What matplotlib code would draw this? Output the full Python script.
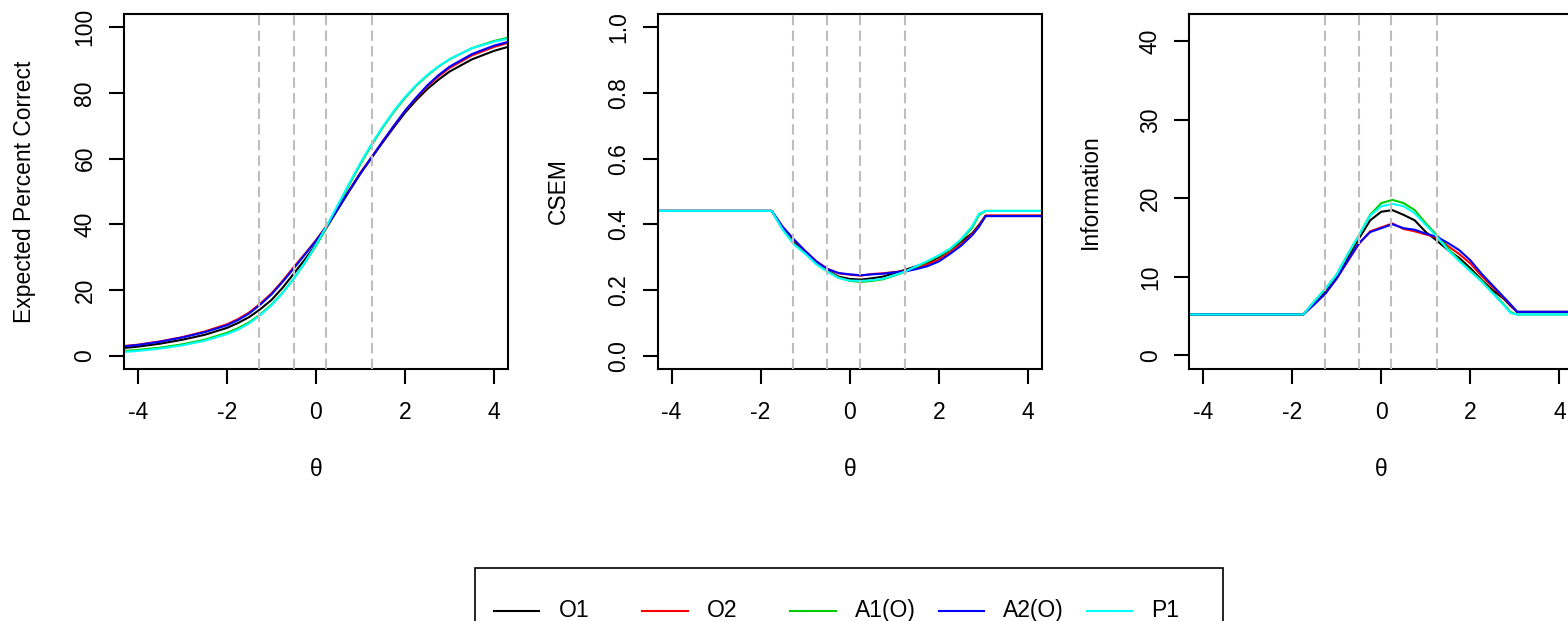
import matplotlib.pyplot as plt
import matplotlib as mpl
from matplotlib.lines import Line2D
from matplotlib.patches import Rectangle

mpl.rcParams['font.family'] = 'Liberation Sans'
mpl.rcParams['font.size'] = 16.5

# series names and colours (R defaults: black, red, green3, blue, cyan)
series = ['O1', 'O2', 'A1(O)', 'A2(O)', 'P1']
colors = ['#000000', '#FF0000', '#00CD00', '#0000FF', '#00FFFF']

# cut scores (dashed vertical lines)
cuts = [-1.27, -0.50, 0.22, 1.25]

# theta grid for the expected percent correct panel
theta_tcc = [-4.31, -4, -3.5, -3, -2.5, -2, -1.75, -1.5, -1.25, -1, -0.75, -0.5, -0.25,
             0, 0.25, 0.5, 0.75, 1, 1.25, 1.5, 1.75, 2, 2.25, 2.5, 2.75, 3, 3.5, 4, 4.31]
tcc_o1 = [2.4, 2.8, 3.7, 4.9, 6.4, 8.5, 10.0, 11.8, 14.2, 17.0, 20.7, 25.0, 29.3,
          34.0, 39.3, 44.8, 50.2, 55.5, 60.3, 65.0, 69.6, 74.0, 77.8, 81.2, 84.0, 86.5, 90.2, 92.8, 94.0]
tcc_o2 = [3.0, 3.4, 4.4, 5.7, 7.4, 9.6, 11.2, 13.2, 15.9, 19.0, 22.8, 27.0, 31.0,
          35.2, 39.8, 45.2, 50.5, 55.8, 60.5, 65.3, 70.0, 74.5, 78.4, 82.0, 85.0, 87.6, 91.4, 94.0, 95.2]
tcc_a1 = [1.5, 1.8, 2.5, 3.5, 4.9, 7.0, 8.4, 10.2, 12.6, 15.6, 19.2, 23.5, 28.3,
          33.5, 39.4, 45.8, 52.2, 58.4, 64.2, 69.5, 74.3, 78.5, 82.2, 85.3, 88.0, 90.2, 93.6, 95.8, 96.8]
tcc_a2 = [2.9, 3.3, 4.3, 5.6, 7.2, 9.3, 10.9, 12.9, 15.6, 18.7, 22.5, 26.6, 30.8,
          35.0, 39.6, 45.0, 50.4, 55.6, 60.4, 65.3, 70.0, 74.6, 78.6, 82.3, 85.4, 88.0, 91.8, 94.4, 95.5]
tcc_p1 = [1.2, 1.5, 2.2, 3.2, 4.6, 6.6, 8.0, 9.9, 12.4, 15.4, 19.1, 23.5, 28.4,
          33.8, 39.8, 46.2, 52.6, 58.8, 64.5, 69.8, 74.6, 78.8, 82.4, 85.5, 88.1, 90.3, 93.6, 95.6, 96.5]

# theta grid for the CSEM and information panels
theta_csem = [-4.31, -1.75, -1.5, -1.25, -1.0, -0.75, -0.5, -0.25, 0, 0.25, 0.5, 0.75,
              1.0, 1.25, 1.5, 1.75, 2.0, 2.25, 2.5, 2.75, 2.9, 3.05, 4.31]
csem_o1 = [0.441, 0.441, 0.385, 0.345, 0.316, 0.283, 0.259, 0.241, 0.234, 0.232, 0.236, 0.241,
           0.252, 0.262, 0.273, 0.284, 0.300, 0.323, 0.347, 0.373, 0.398, 0.426, 0.426]
csem_o2 = [0.441, 0.441, 0.390, 0.352, 0.319, 0.288, 0.265, 0.251, 0.247, 0.244, 0.249, 0.251,
           0.255, 0.258, 0.268, 0.279, 0.292, 0.315, 0.339, 0.370, 0.395, 0.427, 0.427]
csem_a1 = [0.441, 0.441, 0.385, 0.340, 0.312, 0.280, 0.257, 0.238, 0.228, 0.225, 0.228, 0.233,
           0.244, 0.256, 0.271, 0.287, 0.304, 0.324, 0.352, 0.390, 0.428, 0.441, 0.441]
csem_a2 = [0.441, 0.441, 0.392, 0.354, 0.319, 0.287, 0.264, 0.252, 0.248, 0.245, 0.248, 0.250,
           0.254, 0.257, 0.264, 0.273, 0.287, 0.310, 0.335, 0.367, 0.392, 0.425, 0.425]
csem_p1 = [0.441, 0.441, 0.383, 0.339, 0.311, 0.279, 0.256, 0.237, 0.229, 0.228, 0.230, 0.235,
           0.245, 0.257, 0.273, 0.289, 0.306, 0.326, 0.355, 0.395, 0.432, 0.441, 0.441]

info_o1 = [5.2, 5.2, 6.8, 8.2, 10.0, 12.5, 14.9, 17.2, 18.3, 18.5, 17.9, 17.2,
           15.7, 14.6, 13.4, 12.4, 11.1, 9.6, 8.3, 7.2, 6.3, 5.53, 5.53]
info_o2 = [5.2, 5.2, 6.6, 7.9, 9.8, 12.0, 14.2, 15.8, 16.3, 16.8, 16.1, 15.8,
           15.4, 15.0, 13.9, 12.9, 11.7, 10.1, 8.7, 7.3, 6.4, 5.53, 5.53]
info_a1 = [5.2, 5.2, 6.9, 8.5, 10.3, 12.9, 15.3, 17.9, 19.4, 19.8, 19.4, 18.5,
           16.8, 15.3, 13.6, 12.1, 10.8, 9.5, 8.0, 6.5, 5.5, 5.2, 5.2]
info_a2 = [5.2, 5.2, 6.5, 7.9, 9.8, 12.1, 14.3, 15.7, 16.2, 16.7, 16.2, 16.0,
           15.5, 15.1, 14.3, 13.4, 12.1, 10.4, 8.9, 7.4, 6.5, 5.53, 5.53]
info_p1 = [5.2, 5.2, 6.9, 8.5, 10.3, 12.9, 15.3, 17.8, 19.0, 19.3, 19.0, 18.1,
           16.6, 15.1, 13.4, 12.0, 10.7, 9.4, 7.9, 6.4, 5.4, 5.2, 5.2]

tcc = [tcc_o1, tcc_o2, tcc_a1, tcc_a2, tcc_p1]
csem = [csem_o1, csem_o2, csem_a1, csem_a2, csem_p1]
info = [info_o1, info_o2, info_a1, info_a2, info_p1]

W, H = 1568, 621
fig = plt.figure(figsize=(W / 100, H / 100), dpi=100)

# axes boxes in pixels (left, top), R-like layout; the third panel runs off the right edge
box_w, box_h = 384, 355
lefts = [124, 657.7, 1189.3]
top = 14

panels = [
    (theta_tcc, tcc, 'Expected Percent Correct', (-4.0, 104.0), [0, 20, 40, 60, 80, 100], None),
    (theta_csem, csem, 'CSEM', (-0.04, 1.04), [0.0, 0.2, 0.4, 0.6, 0.8, 1.0], '%.1f'),
    (theta_csem, info, 'Information', (-1.75, 43.5), [0, 10, 20, 30, 40], None),
]

handles = []
for left, (th, data, ylab, ylim, yticks, fmt) in zip(lefts, panels):
    ax = fig.add_axes([left / W, 1 - (top + box_h) / H, box_w / W, box_h / H])
    hs = []
    for vals, c in zip(data, colors):
        h, = ax.plot(th, vals, color=c, lw=1.5, zorder=2)
        hs.append(h)
    handles = hs
    for cx in cuts:
        ax.axvline(cx, color='#BEBEBE', lw=1.5, linestyle=(0, (5, 2.5)), zorder=3)
    ax.set_xlim(-4.31, 4.31)
    ax.set_ylim(*ylim)
    ax.set_xticks([-4, -2, 0, 2, 4])
    ax.set_xticklabels(['-4', '-2', '0', '2', '4'])
    ax.set_yticks(yticks)
    if fmt:
        ax.set_yticklabels([fmt % v for v in yticks])
    for s in ax.spines.values():
        s.set_linewidth(1.5)
    ax.tick_params(axis='both', direction='out', length=10.8, width=1.5)
    ax.tick_params(axis='x', pad=12.5)
    ax.tick_params(axis='y', pad=9, labelrotation=90)
    for lab in ax.get_yticklabels():
        lab.set_va('center')
    ax.set_xlabel('θ', va='center')
    ax.xaxis.set_label_coords(0.5, -101 / box_h)
    ax.set_ylabel(ylab, va='center')
    ax.yaxis.set_label_coords(-99 / box_w, 0.5)

# legend at the bottom, fixed column width like R's horizontal legend
leg_left, leg_right, leg_top, leg_bottom = 474.8, 1223, 568, 652
fig.add_artist(Rectangle((leg_left / W, 1 - leg_bottom / H),
                         (leg_right - leg_left) / W, (leg_bottom - leg_top) / H,
                         transform=fig.transFigure, fill=False, edgecolor='black', lw=1.2))
col_w, x0, seg, gap, row_y = 148.2, 494, 45.4, 19, 610.5
for i, (h, name) in enumerate(zip(handles, series)):
    xs = x0 + i * col_w
    fig.add_artist(Line2D([xs / W, (xs + seg) / W], [1 - row_y / H, 1 - row_y / H],
                          transform=fig.transFigure, color=h.get_color(), lw=1.5))
    fig.text((xs + seg + gap) / W, 1 - row_y / H, name, ha='left', va='center')

plt.savefig('out.png', dpi=100)
